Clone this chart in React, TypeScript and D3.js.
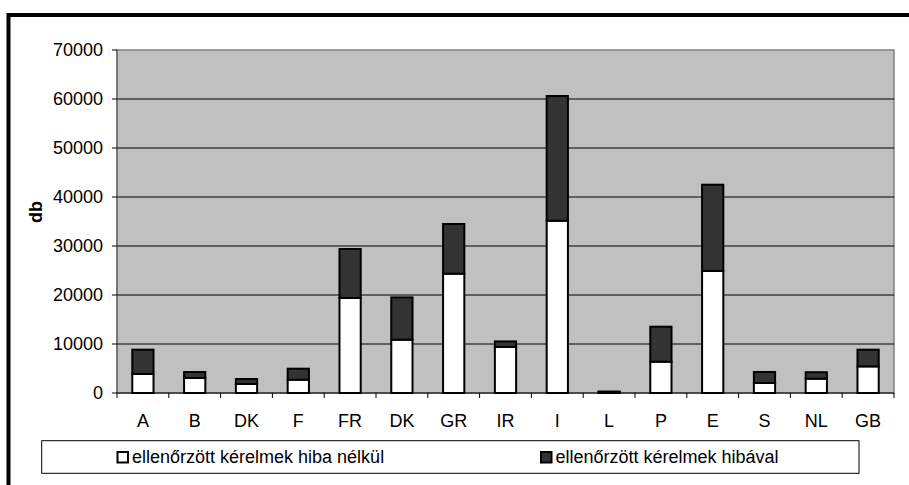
import React from "react";
import * as d3 from "d3";

const categories = ["A", "B", "DK", "F", "FR", "DK", "GR", "IR", "I", "L", "P", "E", "S", "NL", "GB"];
const noErrors = [3880, 3060, 1840, 2710, 19390, 10880, 24350, 9390, 35160, 150, 6390, 24900, 2040, 2920, 5430];
const withErrors = [4960, 1220, 1010, 2250, 10000, 8630, 10140, 1140, 25450, 150, 7140, 17610, 2250, 1320, 3410];
const yTicks = [0, 10000, 20000, 30000, 40000, 50000, 60000, 70000];
const seriesNames = ["ellenőrzött kérelmek hiba nélkül", "ellenőrzött kérelmek hibával"];
const seriesColors = ["#ffffff", "#333333"];

const width = 909;
const height = 485;
const plot = { left: 117, top: 50, right: 894, bottom: 393 };
const font = "'Liberation Sans', Arial, sans-serif";

export default function App() {
    const x = d3.scaleBand<number>()
        .domain(categories.map((_, i) => i))
        .range([plot.left, plot.right])
        .paddingInner(0.59)
        .paddingOuter(0.295);

    const y = d3.scaleLinear()
        .domain([0, 70000])
        .range([plot.bottom, plot.top]);

    const rows = categories.map((c, i) => ({ i, a: noErrors[i], b: withErrors[i] }));
    const stacked = d3.stack<any>().keys(["a", "b"])(rows);

    const step = (plot.right - plot.left) / categories.length;
    const boundaries = d3.range(categories.length + 1).map((k) => plot.left + k * step);

    return (
        <svg width={width} height={height} style={{ position: "absolute", left: 0, top: 0, fontFamily: font }}>
            <rect x={0} y={0} width={width} height={height} fill="#fff" />
            {/* outer frame, cut off at right and bottom */}
            <rect x={8.5} y={15} width={1000} height={1000} fill="#fff" stroke="#000" strokeWidth={4} />

            {/* plot area */}
            <rect x={plot.left} y={plot.top} width={plot.right - plot.left} height={plot.bottom - plot.top}
                fill="#c0c0c0" stroke="#808080" strokeWidth={1.5} />

            {yTicks.filter((t) => t > 0 && t < 70000).map((t) => (
                <line key={t} x1={plot.left} x2={plot.right} y1={y(t)} y2={y(t)} stroke="#000" strokeWidth={1} />
            ))}

            {/* y axis */}
            <line x1={plot.left} x2={plot.left} y1={plot.top} y2={plot.bottom} stroke="#555" strokeWidth={1} />
            {yTicks.map((t) => (
                <g key={t}>
                    <line x1={plot.left - 5} x2={plot.left} y1={y(t)} y2={y(t)} stroke="#000" />
                    <text x={103} y={y(t)} dy="0.35em" textAnchor="end" fontSize={18} fill="#000">{t}</text>
                </g>
            ))}
            <text transform={`translate(42, 212) rotate(-90)`} textAnchor="middle" fontSize={18}
                fontWeight="bold" fill="#000">db</text>

            {/* bars */}
            {stacked.map((s, si) => (
                <g key={si}>
                    {s.map((d: any, i: number) => (
                        <rect key={i} x={x(i)} y={y(d[1])} width={x.bandwidth()} height={y(d[0]) - y(d[1])}
                            fill={seriesColors[si]} stroke="#000" strokeWidth={2} />
                    ))}
                </g>
            ))}

            {/* x axis */}
            <line x1={plot.left} x2={plot.right} y1={plot.bottom} y2={plot.bottom} stroke="#000" strokeWidth={1} />
            {boundaries.map((bx, k) => (
                <line key={k} x1={bx} x2={bx} y1={plot.bottom} y2={plot.bottom + 5} stroke="#000" />
            ))}
            {categories.map((c, i) => (
                <text key={i} x={x(i)! + x.bandwidth() / 2} y={427} textAnchor="middle" fontSize={18} fill="#000">{c}</text>
            ))}

            {/* legend */}
            <rect x={41.7} y={440.7} width={817.3} height={32.6} fill="#fff" stroke="#000" strokeWidth={1} />
            {seriesNames.map((n, si) => {
                const lx = si === 0 ? 117.5 : 541;
                return (
                    <g key={si}>
                        <rect x={lx} y={452} width={10.5} height={10.5} fill={seriesColors[si]} stroke="#000" strokeWidth={2} />
                        <text x={lx + 14.5} y={462.5} fontSize={18} fill="#000">{n}</text>
                    </g>
                );
            })}
        </svg>
    );
}
